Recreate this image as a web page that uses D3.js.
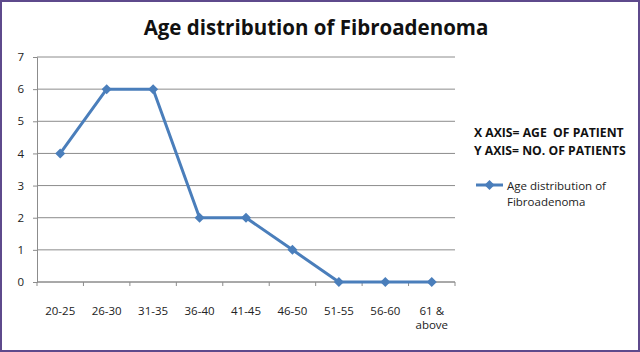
<!DOCTYPE html>
<html>
<head>
<meta charset="utf-8">
<script src="https://cdn.jsdelivr.net/npm/d3@7"></script>
<style>
  body { margin: 0; background: #fff; }
  svg { display: block; }
</style>
</head>
<body>
<script>
var svg_w = 640, svg_h = 352

var categories = ["20-25", "26-30", "31-35", "36-40", "41-45", "46-50", "51-55", "56-60", "61 & above"]
var patients = [4, 6, 6, 2, 2, 1, 0, 0, 0]
var yticks = [0, 1, 2, 3, 4, 5, 6, 7]
var seriesName = "Age distribution of Fibroadenoma"
var axisNotes = ["X AXIS= AGE  OF PATIENT", "Y AXIS= NO. OF PATIENTS"]

var font = "'Open Sans', sans-serif"
var lineColor = "#4a7ebb"

var svg = d3.select("body").append("svg")
    .attr("width", svg_w)
    .attr("height", svg_h)

// frame
svg.append("rect")
    .attr("x", 1).attr("y", 1)
    .attr("width", svg_w - 2).attr("height", svg_h - 2)
    .attr("fill", "#fff")
    .attr("stroke", "#5e4a8c")
    .attr("stroke-width", 2)

var plot_l = 37, plot_r = 455, plot_t = 57, plot_b = 282

var xscale = d3.scaleBand().domain(categories).range([plot_l, plot_r])
var yscale = d3.scaleLinear().domain([0, 7]).range([plot_b, plot_t])

// gridlines
svg.append("g").selectAll("line")
    .data(yticks)
    .enter()
    .append("line")
    .attr("x1", plot_l).attr("x2", plot_r)
    .attr("y1", d => yscale(d)).attr("y2", d => yscale(d))
    .attr("stroke", "#8c8c8c")
    .attr("stroke-width", 1)

// y axis
var yAxis = svg.append("g")
    .attr("transform", "translate(" + plot_l + ",0)")
    .call(d3.axisLeft(yscale).tickValues(yticks).tickFormat(d3.format("d")).tickSize(4).tickPadding(9))
yAxis.select(".domain").attr("stroke", "#8c8c8c")
yAxis.selectAll(".tick line").attr("stroke", "#8c8c8c")
yAxis.selectAll("text").attr("font-family", font).attr("font-size", 11.5).attr("fill", "#222")

// x axis line
svg.append("line")
    .attr("x1", plot_l).attr("x2", plot_r)
    .attr("y1", plot_b).attr("y2", plot_b)
    .attr("stroke", "#8c8c8c")

// boundary tick marks
var bounds = categories.map(c => xscale(c)).concat([plot_r])
svg.append("g").selectAll("line")
    .data(bounds)
    .enter()
    .append("line")
    .attr("x1", d => d).attr("x2", d => d)
    .attr("y1", plot_b).attr("y2", plot_b + 4)
    .attr("stroke", "#8c8c8c")

// category labels (wrapped)
svg.append("g").selectAll("text")
    .data(categories)
    .enter()
    .append("text")
    .attr("x", d => xscale(d) + xscale.bandwidth() / 2)
    .attr("y", 315)
    .attr("text-anchor", "middle")
    .attr("font-family", font)
    .attr("font-size", 11.5)
    .attr("fill", "#222")
    .each(function(d) {
        var parts = d == "61 & above" ? ["61 &", "above"] : [d]
        var t = d3.select(this)
        parts.forEach((p, i) => {
            t.append("tspan")
                .attr("x", xscale(d) + xscale.bandwidth() / 2)
                .attr("dy", i == 0 ? 0 : 14)
                .text(p)
        })
    })

// line
var line = d3.line()
    .x((d, i) => xscale(categories[i]) + xscale.bandwidth() / 2)
    .y(d => yscale(d))

svg.append("path")
    .datum(patients)
    .attr("d", line)
    .attr("fill", "none")
    .attr("stroke", lineColor)
    .attr("stroke-width", 3)
    .attr("stroke-linejoin", "round")

var diamond = d3.symbol().type(d3.symbolDiamond2).size(64)
svg.append("g").selectAll("path")
    .data(patients)
    .enter()
    .append("path")
    .attr("d", diamond)
    .attr("transform", (d, i) => "translate(" + (xscale(categories[i]) + xscale.bandwidth() / 2) + "," + yscale(d) + ")")
    .attr("fill", lineColor)

// title
svg.append("text")
    .attr("x", 316)
    .attr("y", 35)
    .attr("text-anchor", "middle")
    .attr("font-family", font)
    .attr("font-weight", "bold")
    .attr("font-size", 20.5)
    .attr("fill", "#111")
    .text("Age distribution of Fibroadenoma")

// axis notes
svg.append("g").selectAll("text")
    .data(axisNotes)
    .enter()
    .append("text")
    .attr("x", 474)
    .attr("y", (d, i) => 137 + i * 18)
    .attr("font-family", font)
    .attr("font-weight", "bold")
    .attr("font-size", 12.2)
    .attr("fill", "#111")
    .attr("xml:space", "preserve")
    .style("white-space", "pre")
    .text(d => d)

// legend
svg.append("line")
    .attr("x1", 476).attr("x2", 503)
    .attr("y1", 185).attr("y2", 185)
    .attr("stroke", lineColor)
    .attr("stroke-width", 3)
svg.append("path")
    .attr("d", diamond)
    .attr("transform", "translate(489.5,185)")
    .attr("fill", lineColor)
svg.append("text")
    .attr("x", 507)
    .attr("y", 190)
    .attr("font-family", font)
    .attr("font-size", 11.5)
    .attr("fill", "#222")
    .selectAll("tspan")
    .data(["Age distribution of", "Fibroadenoma"])
    .enter()
    .append("tspan")
    .attr("x", 507)
    .attr("dy", (d, i) => i == 0 ? 0 : 16)
    .text(d => d)
</script>
</body>
</html>
